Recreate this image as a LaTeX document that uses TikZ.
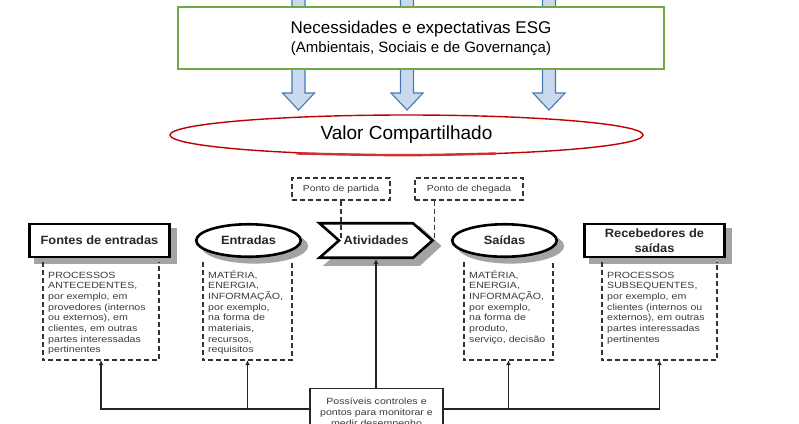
\documentclass[tikz,border=0pt]{standalone}
\usepackage{fontspec}
\setmainfont{Liberation Sans}
\newfontfamily\ttlfont[FakeStretch=1.07]{Liberation Sans}
\newfontfamily\smfont[FakeStretch=1.18]{Liberation Sans}
\usetikzlibrary{shapes.geometric,shapes.symbols,arrows.meta}
\pgfdeclarelayer{bg}
\pgfsetlayers{bg,main}
\definecolor{esggreen}{HTML}{6FA844}
\definecolor{vred}{HTML}{C00000}
\definecolor{barrowfill}{HTML}{C9DAEE}
\definecolor{barrowdraw}{HTML}{4A78AE}
\definecolor{smtext}{HTML}{3C3C3C}
\definecolor{shadowgray}{HTML}{A4A4A4}
\begin{document}
\begin{tikzpicture}[x=1pt,y=-1pt,
  esgbox/.style={draw=esggreen, line width=2.2pt, fill=white, minimum width=486pt, minimum height=62pt, align=center, inner sep=0pt, font=\fontsize{15}{19}\selectfont},
  valor/.style={ellipse, draw=vred, line width=1.4pt, fill=white, minimum width=473pt, minimum height=40pt, font=\fontsize{19}{22}\selectfont, inner sep=0pt},
  barrow/.style={draw=barrowdraw, line width=1.1pt, fill=barrowfill, line join=miter},
  ttl/.style={fill=white, draw=black, line width=2.6pt, inner sep=0pt, align=center, text=black!85, font=\ttlfont\bfseries\fontsize{12}{14.5}\selectfont},
  mainbox/.style={ttl, rectangle, minimum width=140pt, minimum height=33pt},
  mainell/.style={ttl, ellipse, minimum width=104.5pt, minimum height=32.5pt},
  mainsig/.style={ttl, signal, signal to=east, signal from=west, signal pointer angle=83, minimum width=113pt, minimum height=34.5pt},
  dashbox/.style={rectangle, inner sep=0pt, minimum height=98pt},
  dashln/.style={draw=black!80, line width=1.5pt, dash pattern=on 5pt off 3pt},
  smtxt/.style={inner sep=0pt, align=left, text=smtext, font=\smfont\fontsize{9}{10.7}\selectfont},
  ptbox/.style={draw=black!80, line width=1.5pt, dash pattern=on 5pt off 3pt, minimum height=22pt, inner sep=0pt, text=smtext, font=\smfont\fontsize{8.8}{10}\selectfont},
  ctrlbox/.style={draw=black!85, line width=1.3pt, fill=white, minimum width=133pt, inner xsep=0pt, inner ysep=9.5pt, align=center, text=smtext, font=\smfont\fontsize{9}{11}\selectfont},
  conn/.style={draw=black!85, line width=1.4pt},
  connarr/.style={conn, -{Latex[length=5pt,width=5pt]}}
]
\useasboundingbox (0,0) rectangle (799,423);
\clip (0,0) rectangle (799,423);
\begin{pgfonlayer}{bg}
\fill[white] (0,0) rectangle (799,423);
\end{pgfonlayer}

% block arrows
\foreach \cx in {298.5,407,549}{
  \draw[barrow] (\cx-6.5,-5) -- (\cx-6.5,93) -- (\cx-16,93) -- (\cx,110) -- (\cx+16,93) -- (\cx+6.5,93) -- (\cx+6.5,-5) -- cycle;
}

\node[esgbox] (esg) at (421,38) {{\fontsize{17}{19}\selectfont Necessidades e expectativas ESG}\\{(Ambientais, Sociais e de Governança)}};
\node[valor] (valor) at (406.5,135) {Valor Compartilhado};
\draw[vred!80, line width=2.4pt] (valor.south) ++(-110,-2.2) .. controls (valor.south) and (valor.south) .. ++(200,0);

% dashed detail boxes
\node[dashbox, minimum width=116pt] (d1) at (101,311) {};
\node[dashbox, minimum width=89pt] (d2) at (247.5,311) {};
\node[dashbox, minimum width=89pt] (d3) at (508.5,311) {};
\node[dashbox, minimum width=115pt] (d4) at (659.5,311) {};
\foreach \d in {d1,d2,d3,d4}{
  \draw[dashln] (\d.north west) -- (\d.south west) -- (\d.south east) -- (\d.north east);
}

\node[smtxt, text width=112pt, anchor=base west] (t1) at (48,278) {PROCESSOS\\ANTECEDENTES,\\por exemplo, em\\provedores (internos\\ou externos), em\\clientes, em outras\\partes interessadas\\pertinentes};
\node[smtxt, text width=84pt, anchor=base west] (t2) at (208,278) {MATÉRIA,\\ENERGIA,\\INFORMAÇÃO,\\por exemplo,\\na forma de\\materiais,\\recursos,\\requisitos};
\node[smtxt, text width=84pt, anchor=base west] (t3) at (469,278) {MATÉRIA,\\ENERGIA,\\INFORMAÇÃO,\\por exemplo,\\na forma de\\produto,\\serviço, decisão};
\node[smtxt, text width=112pt, anchor=base west] (t4) at (607,278) {PROCESSOS\\SUBSEQUENTES,\\por exemplo, em\\clientes (internos ou\\externos), em outras\\partes interessadas\\pertinentes};

% main shapes
\node[mainbox] (fe) at (99.5,240.5) {Fontes de entradas};
\node[mainell] (en) at (248.5,240.5) {Entradas};
\node[mainsig] (act) at (376,240.5) {Atividades};
\node[mainell] (sa) at (504.5,240.5) {Saídas};
\node[mainbox] (rs) at (654.5,240.5) {Recebedores de\\saídas};

% drop shadows (behind everything)
\begin{pgfonlayer}{bg}
\fill[shadowgray] ([shift={(6,5.5)}]fe.south west) rectangle ([shift={(6,5.5)}]fe.north east);
\fill[shadowgray] ([shift={(6,5.5)}]rs.south west) rectangle ([shift={(6,5.5)}]rs.north east);
\fill[shadowgray] ([shift={(6,5.5)}]en.center) ellipse (53.6 and 17.6);
\fill[shadowgray] ([shift={(6,5.5)}]sa.center) ellipse (53.6 and 17.6);
\fill[shadowgray] ([shift={(-53,-14.3)}]act.center) -- ([shift={(44,-14.3)}]act.center) -- ([shift={(65.5,5.5)}]act.center) -- ([shift={(44,25.3)}]act.center) -- ([shift={(-53,25.3)}]act.center) -- ([shift={(-31,5.5)}]act.center) -- cycle;
\end{pgfonlayer}

% start / end points
\node[ptbox, minimum width=98pt] (pp) at (341,189) {Ponto de partida};
\node[ptbox, minimum width=108pt] (pc) at (469,189) {Ponto de chegada};
\draw[dashln] (pp.south) -- (pp.south |- act.center);
\draw[dashln] (pc.south -| act.east) -- (act.east);

% controls
\node[ctrlbox, anchor=north] (ctrl) at (376.5,388) {Possíveis controles e\\pontos para monitorar e\\medir desempenho};
\coordinate (hy) at (0,409);
\draw[connarr] (ctrl.west |- hy) -| (d1.south);
\draw[connarr] (d2.south |- hy) -- (d2.south);
\draw[connarr] (ctrl.east |- hy) -| (d4.south);
\draw[connarr] (d3.south |- hy) -- (d3.south);
\draw[connarr] (act.south |- ctrl.north) -- (act.south);
\end{tikzpicture}
\end{document}
